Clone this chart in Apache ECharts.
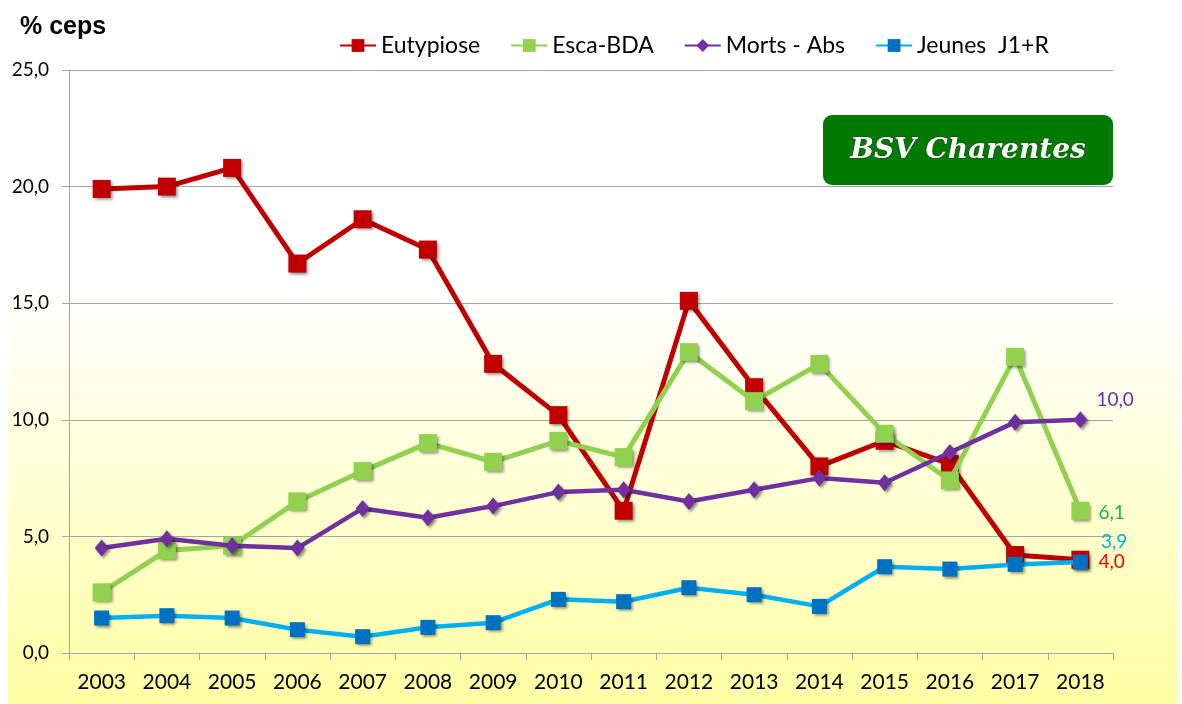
<!DOCTYPE html>
<html>
<head>
<meta charset="utf-8">
<title>% ceps</title>
<script src="https://cdn.jsdelivr.net/npm/echarts@6/dist/echarts.min.js"></script>
<style>
  html, body { margin: 0; padding: 0; background: #fff; }
  #chart { width: 1182px; height: 704px; }
</style>
</head>
<body>
<div id="chart"></div>
<script>
  // data
  var years = ['2003', '2004', '2005', '2006', '2007', '2008', '2009', '2010',
    '2011', '2012', '2013', '2014', '2015', '2016', '2017', '2018']
  var eutypiose = [19.9, 20.0, 20.8, 16.7, 18.6, 17.3, 12.4, 10.2, 6.1, 15.1, 11.4, 8.0, 9.1, 8.1, 4.2, 4.0]
  var esca = [2.6, 4.4, 4.6, 6.5, 7.8, 9.0, 8.2, 9.1, 8.4, 12.9, 10.8, 12.4, 9.4, 7.4, 12.7, 6.1]
  var morts = [4.5, 4.9, 4.6, 4.5, 6.2, 5.8, 6.3, 6.9, 7.0, 6.5, 7.0, 7.5, 7.3, 8.6, 9.9, 10.0]
  var jeunes = [1.5, 1.6, 1.5, 1.0, 0.7, 1.1, 1.3, 2.3, 2.2, 2.8, 2.5, 2.0, 3.7, 3.6, 3.8, 3.9]
  var yTicks = [0, 5, 10, 15, 20, 25]

  var FONT = 'Lato, "Open Sans", sans-serif'

  function fr(v) {
    return Number(v).toFixed(1).replace('.', ',')
  }

  // only the last point gets a label
  function withEndLabel(arr, color, offset) {
    return arr.map(function (v, i) {
      if (i !== arr.length - 1) return v
      return {
        value: v,
        label: {
          show: true,
          position: 'right',
          distance: 9,
          offset: offset,
          color: color,
          fontSize: 19,
          fontFamily: FONT,
          formatter: function (p) { return fr(p.value) }
        }
      }
    })
  }

  var shadow = {
    shadowBlur: 3,
    shadowColor: 'rgba(0,0,0,0.45)',
    shadowOffsetX: 2,
    shadowOffsetY: 2
  }

  var chart = echarts.init(document.getElementById('chart'))

  chart.setOption({
    animation: false,
    textStyle: { fontFamily: FONT },
    graphic: [
      {
        type: 'rect',
        z: -10,
        silent: true,
        shape: { x: 8, y: 0, width: 1170, height: 704 },
        style: {
          fill: new echarts.graphic.LinearGradient(0, 0, 0, 1, [
            { offset: 0, color: '#ffffff' },
            { offset: 0.42, color: '#ffffff' },
            { offset: 1, color: '#ffffa4' }
          ])
        }
      },
      {
        type: 'text',
        left: 20,
        top: 15,
        style: {
          text: '% ceps',
          font: 'bold 25px "Liberation Sans", Arial, sans-serif',
          fill: '#000'
        }
      },
      {
        type: 'group',
        left: 823,
        top: 115,
        children: [
          {
            type: 'rect',
            shape: { x: 0, y: 0, width: 290, height: 70, r: 9 },
            style: { fill: '#007a00' }
          },
          {
            type: 'text',
            x: 145,
            y: 36,
            style: {
              text: 'BSV Charentes',
              font: 'italic bold 28px "DejaVu Serif", serif',
              fill: '#ffffff',
              align: 'center',
              verticalAlign: 'middle',
              stroke: '#1a3a1a',
              lineWidth: 1,
              shadowBlur: 2,
              shadowColor: 'rgba(0,0,0,0.6)',
              shadowOffsetX: 2,
              shadowOffsetY: 2
            }
          }
        ]
      }
    ],
    legend: {
      left: 334,
      top: 29,
      itemGap: 30,
      itemWidth: 36,
      itemHeight: 16,
      textStyle: { fontSize: 23, color: '#000', fontFamily: FONT },
      data: ['Eutypiose', 'Esca-BDA', 'Morts - Abs', 'Jeunes  J1+R']
    },
    grid: {
      left: 69,
      right: 69,
      top: 70,
      bottom: 51
    },
    xAxis: {
      type: 'category',
      data: years,
      boundaryGap: true,
      axisLine: { lineStyle: { color: '#a6a6a6', width: 1 } },
      axisTick: { show: true, length: 7, lineStyle: { color: '#a6a6a6' } },
      axisLabel: { color: '#000', fontSize: 21, margin: 19, fontFamily: FONT }
    },
    yAxis: {
      type: 'value',
      min: yTicks[0],
      max: yTicks[yTicks.length - 1],
      interval: 5,
      axisLine: { show: true, lineStyle: { color: '#a6a6a6', width: 1 } },
      axisTick: { show: true, length: 7, lineStyle: { color: '#a6a6a6' } },
      splitLine: { lineStyle: { color: '#a6a6a6', width: 1 } },
      axisLabel: {
        color: '#000',
        fontSize: 19,
        margin: 20,
        fontFamily: FONT,
        formatter: function (v) { return fr(v) }
      }
    },
    series: [
      {
        name: 'Eutypiose',
        type: 'line',
        data: withEndLabel(eutypiose, '#ff0000', [0, 2]),
        symbol: 'rect',
        symbolSize: 18,
        showAllSymbol: true,
        lineStyle: { color: '#c00000', width: 5 },
        itemStyle: Object.assign({ color: '#c00000' }, shadow),
        z: 3
      },
      {
        name: 'Esca-BDA',
        type: 'line',
        data: withEndLabel(esca, '#1aaf50', [0, 2]),
        symbol: 'rect',
        symbolSize: 18,
        lineStyle: { color: '#92d050', width: 5 },
        itemStyle: Object.assign({ color: '#92d050' }, shadow),
        z: 4
      },
      {
        name: 'Morts - Abs',
        type: 'line',
        data: withEndLabel(morts, '#7030a0', [0, -20]),
        symbol: 'diamond',
        symbolSize: [14, 17],
        lineStyle: { color: '#7030a0', width: 4.5 },
        itemStyle: Object.assign({ color: '#7030a0' }, shadow),
        z: 5
      },
      {
        name: 'Jeunes  J1+R',
        type: 'line',
        data: withEndLabel(jeunes, '#00b0f0', [4, -20]),
        symbol: 'rect',
        symbolSize: 15,
        lineStyle: { color: '#00b0f0', width: 4.5 },
        itemStyle: Object.assign({ color: '#0070c0' }, shadow),
        z: 6
      }
    ]
  })
</script>
</body>
</html>
